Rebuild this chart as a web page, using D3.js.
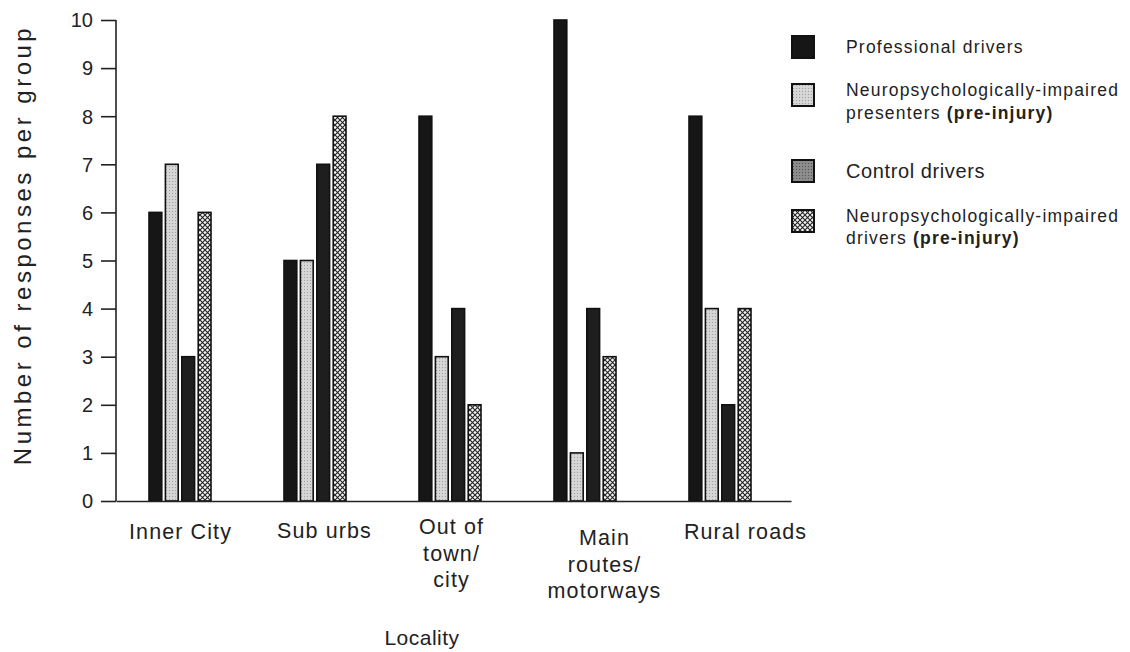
<!DOCTYPE html>
<html>
<head>
<meta charset="utf-8">
<script src="https://cdn.jsdelivr.net/npm/d3@7"></script>
<style>
  html, body { margin: 0; padding: 0; background: #fff; }
  svg { display: block; font-family: "Liberation Sans", Arial, Helvetica, sans-serif; }
</style>
</head>
<body>
<svg id="chart" width="1130" height="652"></svg>
<script>
// ---- data ----
const categories = ["Inner City", "Suburbs", "Out of town/ city", "Main routes/ motorways", "Rural roads"];
const categoryLines = [["Inner City"], ["Sub urbs"], ["Out of", "town/", "city"], ["Main", "routes/", "motorways"], ["Rural roads"]];
const seriesNames = ["Professional drivers", "Neuropsychologically-impaired presenters (pre-injury)", "Control drivers", "Neuropsychologically-impaired drivers (pre-injury)"];
const professional = [6, 5, 8, 10, 8];
const presenters   = [7, 5, 3, 1, 4];
const control      = [3, 7, 4, 4, 2];
const impairedDrv  = [6, 8, 2, 3, 4];
const yTicks = [0, 1, 2, 3, 4, 5, 6, 7, 8, 9, 10];
const seriesValues = [professional, presenters, control, impairedDrv];

const svg = d3.select("#chart");
const defs = svg.append("defs");

// light dotted gray
const p1 = defs.append("pattern").attr("id", "light").attr("width", 3).attr("height", 3).attr("patternUnits", "userSpaceOnUse");
p1.append("rect").attr("width", 3).attr("height", 3).attr("fill", "#d6d6d6");
p1.append("rect").attr("x", 1).attr("y", 1).attr("width", 1).attr("height", 1).attr("fill", "#a0a0a0");
// mid dotted (control, legend)
const p2 = defs.append("pattern").attr("id", "mid").attr("width", 3).attr("height", 3).attr("patternUnits", "userSpaceOnUse");
p2.append("rect").attr("width", 3).attr("height", 3).attr("fill", "#8c8c8c");
p2.append("rect").attr("x", 1).attr("y", 1).attr("width", 1).attr("height", 1).attr("fill", "#555");
// cross hatch
const p3 = defs.append("pattern").attr("id", "cross").attr("width", 5).attr("height", 5).attr("patternUnits", "userSpaceOnUse");
p3.append("rect").attr("width", 5).attr("height", 5).attr("fill", "#f4f4f4");
p3.append("path").attr("d", "M0,0L5,5M5,0L0,5").attr("stroke", "#222").attr("stroke-width", 1.1);

const barFills = ["#161616", "url(#light)", "#1e1e1e", "url(#cross)"];
const legendFills = ["#161616", "url(#light)", "url(#mid)", "url(#cross)"];

const x0 = d3.scaleBand().domain(categories).range([116, 791]).paddingInner(0).paddingOuter(0);
const x1 = d3.scaleBand().domain(d3.range(seriesNames.length)).range([33, 95]).paddingInner(0.22);
const y = d3.scaleLinear().domain([0, 10]).range([501, 20]);

const textColor = "#222";
// label placement tweaks (style only)
const labelDx = [-3, 6, -2, 16, 22];
const labelY = [38, 37, 33, 44, 38];

// bars
categories.forEach((c, ci) => {
  seriesValues.forEach((vals, si) => {
    svg.append("rect")
      .attr("x", x0(c) + x1(si))
      .attr("y", y(vals[ci]))
      .attr("width", x1.bandwidth())
      .attr("height", y(0) - y(vals[ci]))
      .attr("fill", barFills[si])
      .attr("stroke", "#111")
      .attr("stroke-width", 1.6);
  });
});

// y axis
const yAxis = d3.axisLeft(y).tickValues(yTicks).tickSize(15).tickPadding(8).tickFormat(d3.format("d"));
const gy = svg.append("g").attr("transform", "translate(116,0)").call(yAxis);
gy.select(".domain").attr("stroke", "#222").attr("stroke-width", 1.6).attr("d", "M0,20V501");
gy.selectAll(".tick line").attr("stroke", "#222").attr("stroke-width", 1.6);
gy.selectAll(".tick text").attr("fill", textColor).style("font-size", "20px").attr("dy", "0.34em");

// x axis
const xAxis = d3.axisBottom(x0).tickSize(0).tickFormat("");
const gx = svg.append("g").attr("transform", "translate(0,501)").call(xAxis);
gx.select(".domain").attr("stroke", "#222").attr("stroke-width", 1.6);
gx.selectAll(".tick").each(function(d, i) {
  const t = d3.select(this).append("text")
    .attr("fill", textColor)
    .attr("text-anchor", "middle")
    .style("font-size", "21.5px")
    .style("letter-spacing", "1.1px")
    .attr("y", labelY[i]);
  categoryLines[i].forEach((ln, li) => {
    t.append("tspan").attr("x", labelDx[i]).attr("dy", li === 0 ? 0 : 26.5).text(ln);
  });
});

// axis titles
svg.append("text")
  .attr("transform", "translate(31,245) rotate(-90)")
  .attr("text-anchor", "middle")
  .attr("fill", textColor)
  .style("font-size", "24px")
  .style("letter-spacing", "3.5px")
  .text("Number of responses per group");

svg.append("text")
  .attr("x", 422).attr("y", 645)
  .attr("text-anchor", "middle")
  .attr("fill", textColor)
  .style("font-size", "21px")
  .style("letter-spacing", "0.5px")
  .text("Locality");

// legend
const legendItems = [
  { y: 36, lines: [["Professional drivers", ""]], ty: [53], size: 17.5, ls: 1.2 },
  { y: 84, lines: [["Neuropsychologically-impaired", ""], ["presenters ", "(pre-injury)"]], ty: [96, 119], size: 17.5, ls: 1.2 },
  { y: 160, lines: [["Control drivers", ""]], ty: [178], size: 20, ls: 0.6 },
  { y: 210, lines: [["Neuropsychologically-impaired", ""], ["drivers ", "(pre-injury)"]], ty: [222, 244], size: 17.5, ls: 1.2 }
];
legendItems.forEach((it, i) => {
  svg.append("rect")
    .attr("x", 792).attr("y", it.y)
    .attr("width", 22).attr("height", 22)
    .attr("fill", legendFills[i])
    .attr("stroke", "#111").attr("stroke-width", 2);
  it.lines.forEach((ln, li) => {
    const t = svg.append("text")
      .attr("x", 846).attr("y", it.ty[li])
      .attr("fill", textColor)
      .style("font-size", it.size + "px")
      .style("letter-spacing", it.ls + "px");
    t.append("tspan").text(ln[0]);
    if (ln[1]) t.append("tspan").attr("font-weight", "bold").text(ln[1]);
  });
});
</script>
</body>
</html>
